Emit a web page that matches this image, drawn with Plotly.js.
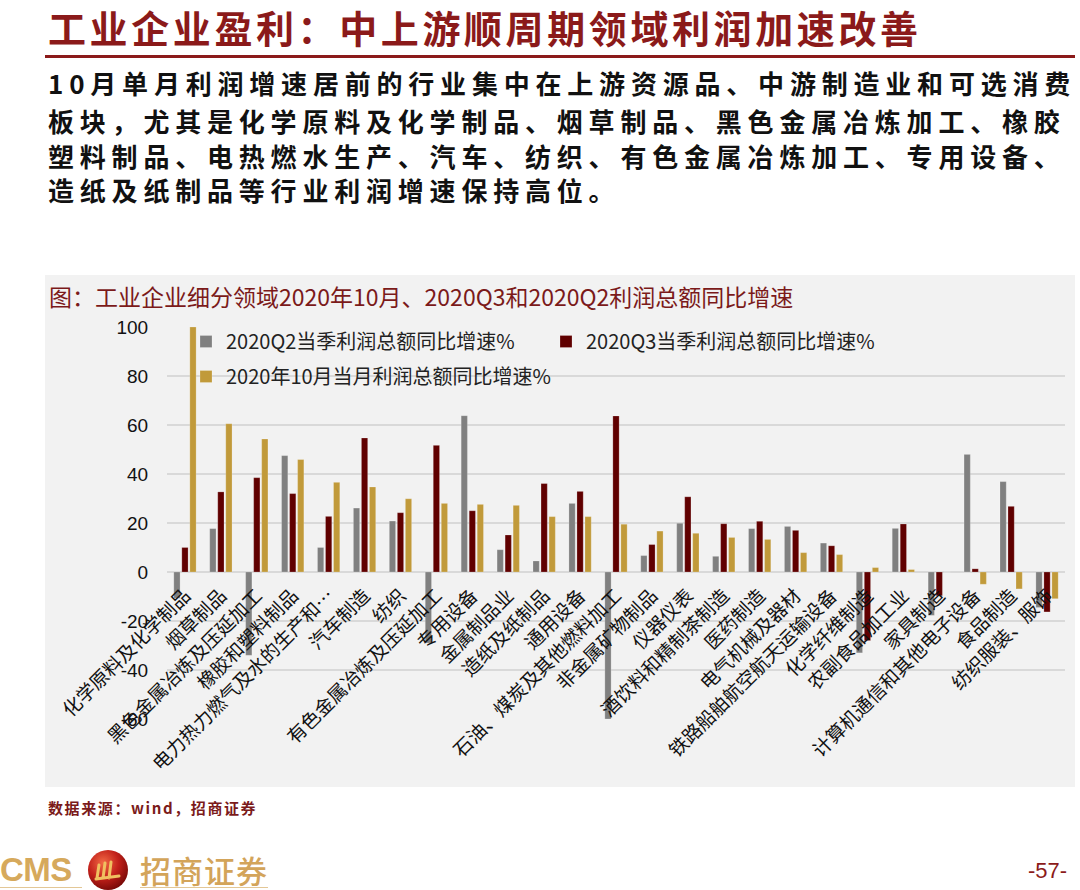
<!DOCTYPE html>
<html>
<head>
<meta charset="utf-8">
<script src="https://cdn.plot.ly/plotly-3.0.1.min.js"></script>
<style>
  html, body { margin:0; padding:0; background:#ffffff; }
  body { width:1080px; height:890px; position:relative; overflow:hidden; font-family:"Noto Sans CJK SC","Noto Sans",sans-serif; }
  #chart { position:absolute; left:0; top:0; width:1080px; height:890px; }
  .abs { position:absolute; white-space:nowrap; pointer-events:none; }
  #h1 { left:48px; top:4px; font-size:38px; line-height:46px; letter-spacing:3.6px; color:#8B1A1A; font-weight:700; }
  #rule { left:45px; top:55px; width:1030px; height:3px; background:#8B1A1A; }
  .para { left:48px; font-size:26px; line-height:34px; letter-spacing:5.8px; color:#111; font-weight:700; }
  #src { left:48px; top:797px; font-size:15px; line-height:22px; letter-spacing:1.6px; color:#7B1A1A; font-weight:700; }
  #cms { left:0px; top:849px; font-size:33px; line-height:42px; color:#D6A95C; font-weight:700; font-family:"Liberation Sans","Open Sans",sans-serif; letter-spacing:-0.5px; }
  #zs { left:140px; top:849px; font-size:31px; line-height:42px; color:#D3A45A; font-weight:500; letter-spacing:1px; }
  #pg { left:1028px; top:857px; font-size:22px; line-height:28px; color:#8B1A1A; font-family:"Liberation Sans Narrow","Liberation Sans",sans-serif; }
  #logo { left:86px; top:848px; }
  .gl { height:1px; background:#E3C796; top:887px; }
</style>
</head>
<body>
<div id="chart"></div>
<div id="h1" class="abs">工业企业盈利：中上游顺周期领域利润加速改善</div>
<div id="rule" class="abs"></div>
<div class="abs para" style="top:66px;">10月单月利润增速居前的行业集中在上游资源品、中游制造业和可选消费</div>
<div class="abs para" style="top:104px;">板块，尤其是化学原料及化学制品、烟草制品、黑色金属冶炼加工、橡胶</div>
<div class="abs para" style="top:139px;">塑料制品、电热燃水生产、汽车、纺织、有色金属冶炼加工、专用设备、</div>
<div class="abs para" style="top:173px;">造纸及纸制品等行业利润增速保持高位。</div>
<div id="src" class="abs">数据来源：wind，招商证券</div>
<div id="cms" class="abs">CMS</div>
<svg id="logo" class="abs" width="44" height="44" viewBox="0 0 44 44">
  <defs>
    <radialGradient id="rg" cx="38%" cy="32%" r="70%">
      <stop offset="0%" stop-color="#F26A45"/>
      <stop offset="55%" stop-color="#C2201A"/>
      <stop offset="100%" stop-color="#7A0A08"/>
    </radialGradient>
  </defs>
  <circle cx="22" cy="22" r="20" fill="url(#rg)"/>
  <path d="M11 30 L13 17 M17 30 L19 15 M23 30 L25 14 M10 31 L33 28" stroke="#F0C060" stroke-width="3" fill="none" stroke-linecap="round"/>
</svg>
<div id="zs" class="abs">招商证券</div>
<div class="abs gl" style="left:0px;width:82px;"></div>
<div class="abs gl" style="left:140px;width:128px;"></div>
<div id="pg" class="abs">-57-</div>
<script>
// ---- data ----
var categories = [
  '化学原料及化学制品','烟草制品','黑色金属冶炼及压延加工','橡胶和塑料制品',
  '电力热力燃气及水的生产和…','汽车制造','纺织','有色金属冶炼及压延加工',
  '专用设备','金属制品业','造纸及纸制品','通用设备',
  '石油、煤炭及其他燃料加工','非金属矿物制品','仪器仪表','酒饮料和精制茶制造',
  '医药制造','电气机械及器材','铁路船舶航空航天运输设备','化学纤维制造',
  '农副食品加工业','家具制造','计算机通信和其他电子设备','食品制造','纺织服装、服饰'
];
var q2Values = [-10.7, 17.7, -34.0, 47.5, 10.0, 26.1, 20.8, -29.0, 63.8, 9.1, 4.5, 28.0,
  -60.0, 6.7, 19.9, 6.4, 17.7, 18.6, 11.8, -33.0, 17.8, -17.7, 48.0, 36.9, -14.5];
var q3Values = [10.0, 32.7, 38.5, 32.0, 22.7, 54.7, 24.2, 51.7, 25.0, 15.1, 36.1, 32.9,
  63.7, 11.2, 30.7, 19.7, 20.7, 17.0, 10.7, -28.0, 19.6, -9.7, 1.3, 26.8, -16.3];
var octValues = [100.0, 60.5, 54.3, 45.9, 36.6, 34.7, 29.9, 28.0, 27.6, 27.2, 22.6, 22.6,
  19.5, 16.7, 15.8, 14.1, 13.3, 7.9, 7.1, 1.8, 1.0, 0.0, -5.0, -6.9, -10.9];
var seriesNames = ['2020Q2当季利润总额同比增速%', '2020Q3当季利润总额同比增速%', '2020年10月当月利润总额同比增速%'];
var chartTitle = '图：工业企业细分领域2020年10月、2020Q3和2020Q2利润总额同比增速';
var yTickValues = [-60, -40, -20, 0, 20, 40, 60, 80, 100];

// ---- layout helpers (pixel -> paper) ----
var L = 167, R = 15, T = 327, B = 171;
var PW = 1080 - L - R, PH = 890 - T - B;
function px(x) { return (x - L) / PW; }
function py(y) { return (890 - B - y) / PH; }

var colors = ['#808080', '#600000', '#C19A3A'];
var values = [q2Values, q3Values, octValues];
var traces = values.map(function (v, i) {
  return {
    type: 'bar', x: categories, y: v, name: seriesNames[i],
    marker: { color: colors[i], line: { color: 'rgba(255,255,255,0.35)', width: 0.6 } },
    legend: i < 2 ? 'legend' : 'legend2',
    hoverinfo: 'skip'
  };
});

var legendFont = { family: '"Noto Sans CJK SC", sans-serif', size: 20, color: '#222' };
var layout = {
  width: 1080, height: 890,
  margin: { l: L, r: R, t: T, b: B },
  paper_bgcolor: 'rgba(0,0,0,0)', plot_bgcolor: 'rgba(0,0,0,0)',
  barmode: 'group', bargap: 0.33, bargroupgap: 0.22,
  showlegend: true,
  legend: { orientation: 'h', x: px(186), y: py(322), xanchor: 'left', yanchor: 'top',
    entrywidth: 315, entrywidthmode: 'pixels', font: legendFont, bgcolor: 'rgba(0,0,0,0)' },
  legend2: { orientation: 'h', x: px(186), y: py(357), xanchor: 'left', yanchor: 'top',
    font: legendFont, bgcolor: 'rgba(0,0,0,0)' },
  xaxis: {
    type: 'category', anchor: 'free', position: 60 / 160,
    tickangle: -45, showgrid: false, showline: false, zeroline: false, ticks: 'outside',
    ticklen: 4, tickcolor: 'rgba(0,0,0,0)',
    tickfont: { family: '"Noto Sans CJK SC", sans-serif', size: 19, color: '#111' },
    automargin: false
  },
  yaxis: {
    range: [-60, 100], tickvals: yTickValues, ticktext: yTickValues.map(String),
    showgrid: true, gridcolor: '#D9D9D9', gridwidth: 2,
    zeroline: true, zerolinecolor: '#D9D9D9', zerolinewidth: 2,
    showline: false, ticks: 'outside', ticklen: 14, tickcolor: 'rgba(0,0,0,0)',
    tickfont: { family: '"Liberation Sans", Arial, sans-serif', size: 19, color: '#111' },
    automargin: false, fixedrange: true
  },
  shapes: [{
    type: 'rect', xref: 'paper', yref: 'paper', layer: 'below',
    x0: px(45), x1: px(1075), y0: py(787), y1: py(275),
    fillcolor: '#F2F2F2', line: { width: 0 }
  }],
  annotations: [{
    xref: 'paper', yref: 'paper', x: px(47), y: py(296), xanchor: 'left', yanchor: 'middle',
    text: chartTitle, showarrow: false,
    font: { family: '"Noto Sans CJK SC", sans-serif', size: 23, color: '#7B1A1A' }
  }]
};

Plotly.newPlot('chart', traces, layout, { staticPlot: true, displayModeBar: false });
</script>
</body>
</html>
